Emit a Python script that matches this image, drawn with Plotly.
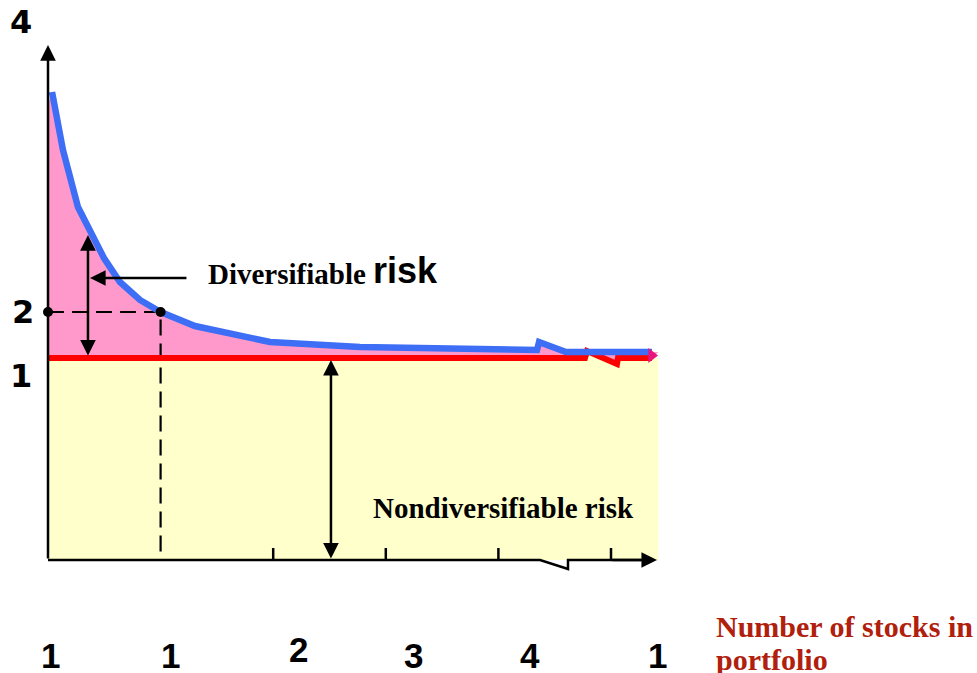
import plotly.graph_objects as go

# ---- data (x: tick units, y: risk units) ----
total_risk_x = [0.036, 0.133, 0.266, 0.497, 0.639, 0.817, 1.0, 1.305, 1.972, 2.771, 4.343, 4.361, 4.600, 5.364]
total_risk_y = [37.74, 33.06, 28.47, 24.35, 22.42, 20.97, 20.0, 18.87, 17.58, 17.18, 16.94, 17.58, 16.77, 16.77]
market_risk_x = [0.0, 4.769, 4.787, 5.053, 5.062, 5.364]
market_risk_y = [16.29, 16.29, 16.85, 15.81, 16.29, 16.29]
marked_point = (1.0, 20.0)
x_tick_labels = ["1", "1", "2", "3", "4", "1"]
y_tick_labels = ["4", "2", "1"]

# pixel mapping helpers (figure uses full-page plot area)
PX0, PXU = 48.0, 112.6   # x origin px, px per unit
PY0, PYU = 560.0, 12.4   # y origin px, px per unit
W, H = 977, 673

def px(xp):
    return xp / W

def py(yp):
    return 1 - yp / H

fig = go.Figure()

# yellow area under market risk
fig.add_trace(go.Scatter(
    x=market_risk_x + [5.42, 5.42, 0.0],
    y=market_risk_y + [market_risk_y[-1], 0, 0],
    fill="toself", fillcolor="#FFFFCC", line=dict(width=0), mode="lines",
    hoverinfo="skip", showlegend=False))

# pink area between total and market risk
fig.add_trace(go.Scatter(
    x=[0.0] + total_risk_x + [5.42] + market_risk_x[::-1],
    y=[36.8] + total_risk_y + [total_risk_y[-1]] + market_risk_y[::-1],
    fill="toself", fillcolor="#FF99CC", line=dict(width=0), mode="lines",
    hoverinfo="skip", showlegend=False))

# dashed guide lines
fig.add_trace(go.Scatter(
    x=[0, marked_point[0], marked_point[0]], y=[marked_point[1], marked_point[1], 0],
    mode="lines", line=dict(color="black", width=2.2, dash="16px,8px"),
    hoverinfo="skip", showlegend=False))

# market risk line
fig.add_trace(go.Scatter(
    x=market_risk_x, y=market_risk_y, mode="lines",
    line=dict(color="#FF0000", width=6), hoverinfo="skip", showlegend=False))

# total risk line
fig.add_trace(go.Scatter(
    x=total_risk_x, y=total_risk_y, mode="lines",
    line=dict(color="#3D6EF5", width=6.5), hoverinfo="skip", showlegend=False))

# end arrow tip (magenta)
fig.add_trace(go.Scatter(
    x=[5.36], y=[16.5], mode="markers",
    marker=dict(symbol="triangle-right", size=13, color="#E8157A"),
    hoverinfo="skip", showlegend=False))

# dots
fig.add_trace(go.Scatter(
    x=[0, marked_point[0]], y=[marked_point[1], marked_point[1]], mode="markers",
    marker=dict(color="black", size=10), hoverinfo="skip", showlegend=False))

# x axis with break
fig.add_trace(go.Scatter(
    x=[0, 4.37, 4.618, 4.618, 5.3], y=[0, 0, -0.726, 0, 0], mode="lines",
    line=dict(color="black", width=2.5), hoverinfo="skip", showlegend=False))

# ticks
for t in [2, 3, 4, 5]:
    fig.add_shape(type="line", x0=t, x1=t, y0=0, y1=0.97,
                  line=dict(color="black", width=2.5))

arrow_common = dict(xref="x", yref="y", axref="x", ayref="y", text="",
                    showarrow=True, arrowhead=2, arrowsize=1.25, arrowwidth=2.5,
                    arrowcolor="black", standoff=0, startstandoff=0)
# y axis
fig.add_annotation(x=0, y=41.53, ax=0, ay=0, **arrow_common)
# x axis arrow head
fig.add_annotation(x=5.409, y=0, ax=5.0, ay=0, **arrow_common)
# diversifiable double arrow
fig.add_annotation(x=0.355, y=26.21, ax=0.355, ay=16.37, arrowside="end+start", **arrow_common)
# nondiversifiable double arrow
fig.add_annotation(x=2.513, y=16.13, ax=2.513, ay=0, arrowside="end+start", **arrow_common)
# pointer arrow
fig.add_annotation(x=0.373, y=22.74, ax=1.243, ay=22.74, **arrow_common)

serif = "Liberation Serif"
sans = "Liberation Sans"

def label(text, x, y, size, family, color="black", xanchor="center"):
    fig.add_annotation(xref="paper", yref="paper", x=px(x), y=py(y), text=text,
                       showarrow=False, xanchor=xanchor, yanchor="middle",
                       font=dict(family=family, size=size, color=color))

label("<b>Diversifiable</b>", 206, 274, 29, serif, xanchor="left")
label("<b>risk</b>", 371, 270, 36, sans, xanchor="left")
label("<b>Nondiversifiable risk</b>", 371, 508, 29, serif, xanchor="left")
label("<b>Number of stocks in</b>", 714, 626, 30, serif, color="#B0200C", xanchor="left")
label("<b>portfolio</b>", 714, 659, 30, serif, color="#B0200C", xanchor="left")

y_label_pos = [(21, 22), (23, 312), (21, 376)]
for t, (xp, yp) in zip(y_tick_labels, y_label_pos):
    label("<b>%s</b>" % t, xp, yp, 32, "DejaVu Sans")

x_label_pos = [(50, 655), (170, 655), (298, 649), (413, 655), (530, 655), (657, 655)]
for t, (xp, yp) in zip(x_tick_labels, x_label_pos):
    label("<b>%s</b>" % t, xp, yp, 35, sans)

fig.update_layout(
    width=W, height=H, autosize=False,
    margin=dict(l=0, r=0, t=0, b=0),
    plot_bgcolor="white", paper_bgcolor="white",
    xaxis=dict(range=[-PX0 / PXU, (W - PX0) / PXU], visible=False, fixedrange=True),
    yaxis=dict(range=[(PY0 - H) / PYU, PY0 / PYU], visible=False, fixedrange=True),
    showlegend=False,
)

fig.write_html("out.html", config={"displayModeBar": False},
               post_script="document.body.style.margin='0';document.body.style.overflow='hidden';")
